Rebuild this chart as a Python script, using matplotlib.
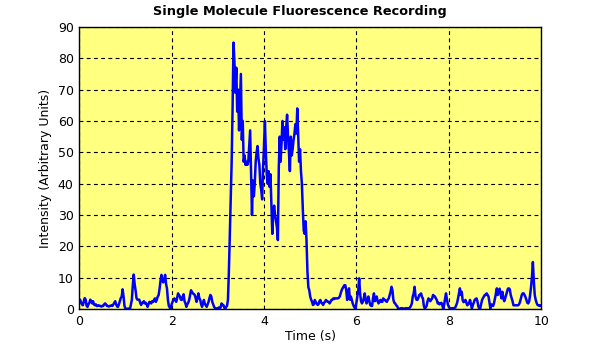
import numpy as np
import matplotlib
matplotlib.use("Agg")
from matplotlib import pyplot as plt

# photon counts sampled every 20 ms, one row = 0.2 s
intensity = [
    2.5, 3, 2, 1.5, 1.2, 2.5, 3.5, 3, 1, 0.7,          # 0.0
    1.5, 2, 3, 2.5, 1.8, 2.5, 1.5, 1.2, 1.5, 1,        # 0.2
    1, 1.2, 1, 1, 0.8, 1, 1, 1.5, 1.8, 1.5,            # 0.4
    1, 1, 0.8, 1, 1, 1.2, 1, 1.5, 2, 2.5,              # 0.6
    1.5, 0.8, 0.7, 1.5, 2.5, 3.5, 4, 6.3, 4, 1,        # 0.8
    0.2, 0, 0, 0.2, 0, 0, 1.5, 3, 7.5, 11,             # 1.0
    8, 6, 3.5, 3, 3, 3, 2, 1.3, 2, 2,                  # 1.2
    2.5, 1.8, 2, 1.5, 0.7, 1.5, 2.3, 2, 1.8, 2.5,      # 1.4
    2.3, 2.9, 3.4, 2.3, 3, 4, 4.5, 6.5, 9, 10.9,       # 1.6
    9, 8.5, 9.5, 10.9, 8, 6.6, 3, 1, 0.5, 0,           # 1.8
    1.5, 2.3, 3, 3.4, 2.8, 2.3, 3.5, 5, 4.5, 4,        # 2.0
    3, 2.9, 4, 4.7, 2.5, 1.8, 0.7, 1.5, 2, 2.9,        # 2.2
    4.5, 6, 5.5, 5, 4.8, 4.5, 3.5, 2.3, 3.5, 5,        # 2.4
    3.5, 2.9, 1.5, 0.7, 2, 2.9, 1.5, 1.3, 0.7, 1.5,    # 2.6
    2.3, 3.5, 4.5, 4, 2.3, 1.5, 0.7, 0.3, 0.2, 0.2,    # 2.8
    0.2, 0.5, 0.2, 0.5, 1.8, 1.3, 1.3, 0.5, 0, 0.7,    # 3.0
    1, 3, 12, 24, 36, 47, 64, 85, 79, 69,              # 3.2
    77, 63, 70, 57, 66, 75, 54, 60, 47, 49,            # 3.4
    46, 47, 46, 47, 52, 57, 43, 30, 41, 36,            # 3.6
    40, 47, 50, 52, 48, 46, 40, 38, 35, 45,            # 3.8
    52, 60, 50, 43, 40, 44, 39, 43, 33, 24,            # 4.0
    31, 33, 30, 28, 26, 22, 45, 55, 47, 53,            # 4.2
    60, 54, 58, 51, 58, 62, 55, 50, 44, 55,            # 4.4
    49, 51, 54, 56, 59, 56, 64, 55, 47, 51,            # 4.6
    44, 40, 32, 25, 24, 28, 22, 12, 7, 6,              # 4.8
    4, 3, 2.3, 1.3, 1.5, 2.9, 2.2, 1.8, 1.3, 1.5,      # 5.0
    2.5, 2.9, 2, 1.8, 1.3, 2, 2.3, 2.9, 2.6, 2.3,      # 5.2
    2.3, 1.8, 2.3, 2.9, 3, 3.4, 3.2, 3.4, 3.4, 3.4,    # 5.4
    3.4, 3.6, 4, 5, 6, 6.6, 7.1, 7.6, 7.6, 6,          # 5.6
    2.9, 4.5, 6.6, 3, 4, 3, 1.8, 1, 0.5, 0,            # 5.8
    2, 4, 6, 9.8, 5, 2.5, 1.8, 2.3, 3.5, 5,            # 6.0
    3, 1.8, 3, 4, 2.5, 1.3, 1, 1, 3.5, 5,              # 6.2
    2.5, 3, 4, 2.5, 1.8, 2.5, 2.9, 2.3, 2.3, 3.4,      # 6.4
    3, 2.9, 2.5, 2.3, 3, 3.4, 4.5, 5.5, 7.1, 6,        # 6.6
    3, 2, 1.8, 1.2, 1, 0.3, 0, 0, 0.3, 0,              # 6.8
    0.3, 0, 0, 0.3, 0, 0.3, 0, 0.3, 0.5, 1,            # 7.0
    1.8, 4, 5, 7.1, 4, 3, 2.9, 3.5, 4.5, 4.5,          # 7.2
    5, 3.8, 3.4, 1, 0.2, 0.5, 1, 2.5, 3.4, 3,          # 7.4
    2.5, 3, 3.4, 4.5, 4.2, 4, 3.4, 2.9, 1.8, 2,        # 7.6
    1.5, 1.8, 2, 1.2, 0, 1.5, 3.4, 5, 3, 1.5,          # 7.8
    0.7, 0.3, 0, 0.2, 0.3, 0, 0.3, 0.5, 1.2, 2,        # 8.0
    3.4, 5, 6.6, 4.5, 5.5, 2.8, 2.2, 2.5, 2.9, 2,      # 8.2
    1.2, 1.5, 2, 2.9, 1.5, 0.2, 1.2, 2, 2.9, 3.2,      # 8.4
    3.4, 2.5, 0.8, 0.2, 0.2, 1.5, 2.9, 3.5, 4, 4.5,    # 8.6
    4.5, 5, 4.5, 4, 2, 0.2, 1.5, 1.2, 1, 2,            # 8.8
    3.4, 5, 6.6, 4.5, 5.5, 6.5, 5, 3.4, 5.5, 3.5,      # 9.0
    2.5, 3.4, 4.5, 5.5, 6.5, 6.6, 6.3, 4.5, 3.5, 2.5,  # 9.2
    1.2, 1.2, 1.2, 1.2, 1.2, 1.2, 1.5, 2.2, 3.4, 4.5,  # 9.4
    5, 5, 4.5, 3.8, 2.9, 2, 1.8, 2.5, 4.5, 7,          # 9.6
    10.3, 15, 9, 4.5, 3, 2, 1.3, 1.2, 1, 1.2,          # 9.8
    1,                                                 # 10.0
]
time_s = np.linspace(0, 10, len(intensity))

x_ticks = [0, 2, 4, 6, 8, 10]
y_ticks = [0, 10, 20, 30, 40, 50, 60, 70, 80, 90]

plt.rcParams["font.family"] = ["DejaVu Sans"]
plt.rcParams["font.size"] = 9

fig = plt.figure(figsize=(6, 3.5), dpi=100)
ax = fig.add_axes([0.132, 0.117, 0.77, 0.806])
ax.set_facecolor("#ffff80")

ax.plot(time_s, intensity, color="#0000ff", linewidth=1.8)

ax.set_xlim(0, 10)
ax.set_ylim(0, 90)
ax.set_xticks(x_ticks)
ax.set_yticks(y_ticks)
ax.tick_params(length=0, pad=4, labelsize=9)
ax.grid(True, color="black", linestyle=(0, (3.5, 3)), linewidth=0.8)
for s in ax.spines.values():
    s.set_linewidth(1)

# title is centred on the whole figure, not the axes
fig.suptitle("Single Molecule Fluorescence Recording", x=0.5, y=0.985,
             fontsize=9.3, fontweight="bold")
ax.set_xlabel("Time (s)", labelpad=2)
ax.set_ylabel("Intensity (Arbitrary Units)", labelpad=4)

fig.savefig("out.png", dpi=100)
